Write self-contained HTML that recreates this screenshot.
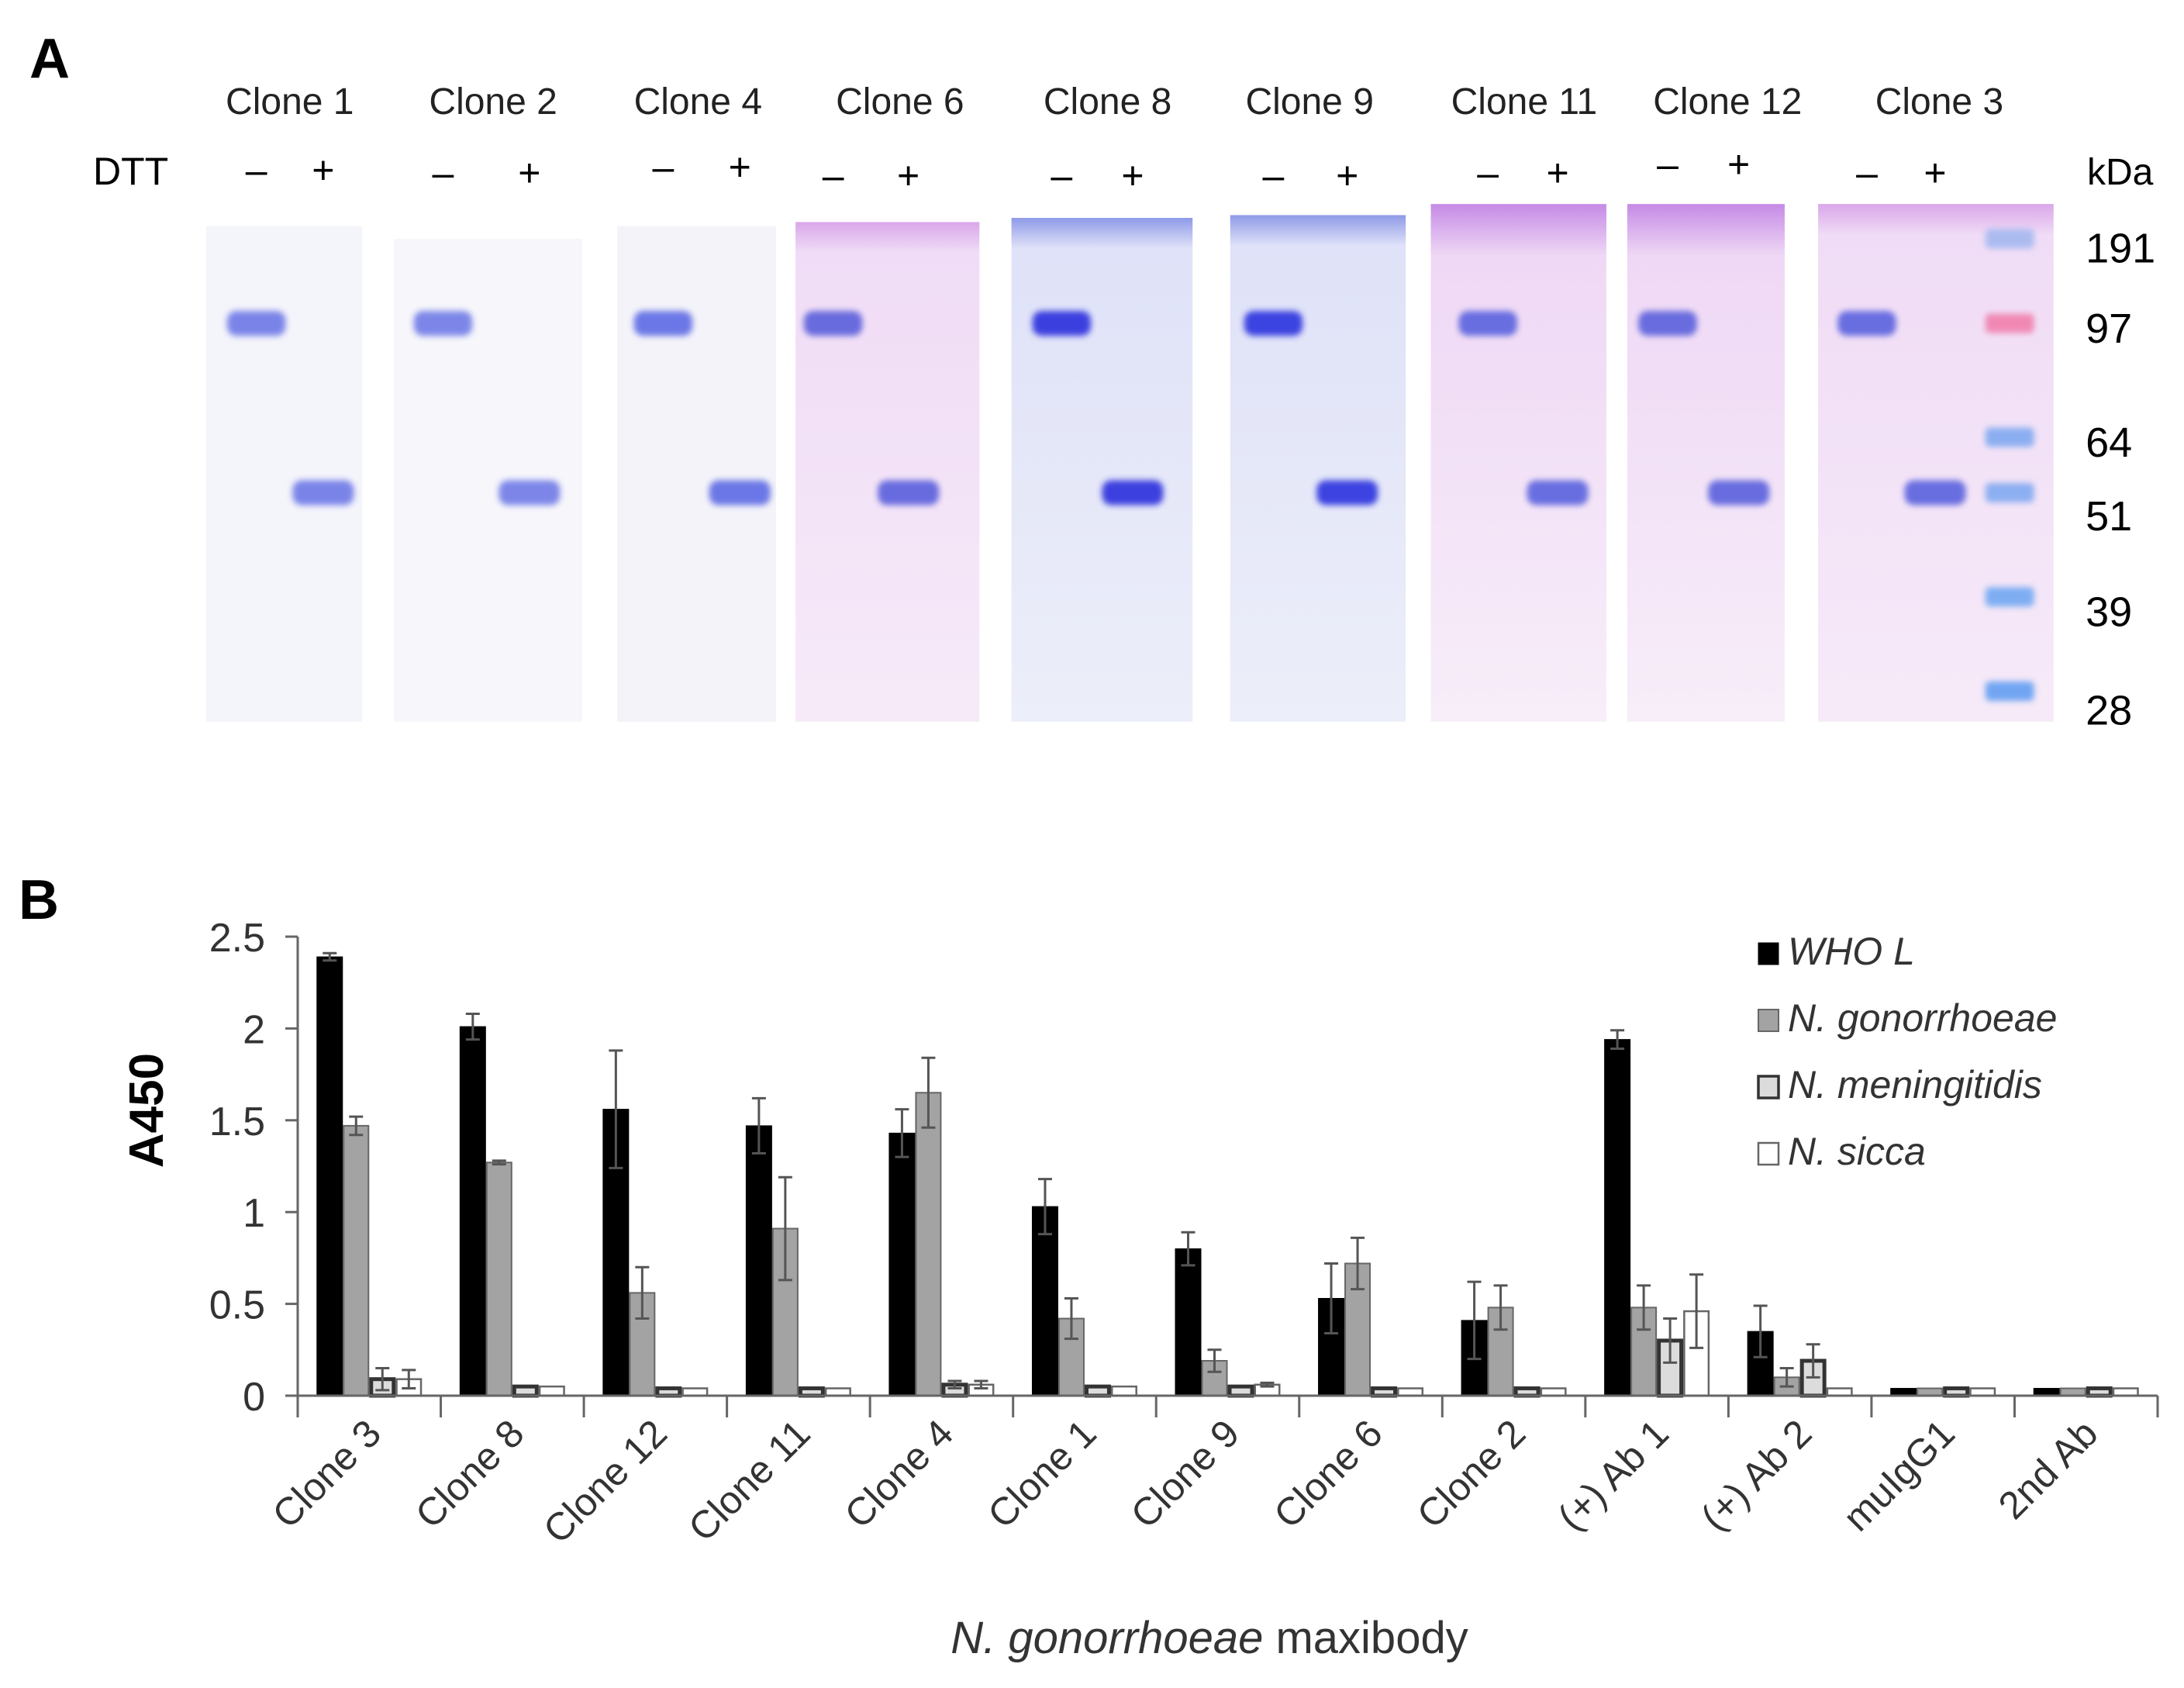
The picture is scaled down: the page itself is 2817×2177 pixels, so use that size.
<!DOCTYPE html>
<html><head><meta charset="utf-8"><style>
html,body{margin:0;padding:0;background:#fff;}
svg{display:block;font-family:"Liberation Sans",Arial,sans-serif;}
</style></head><body>
<svg id="fig" width="2817" height="2177" viewBox="0 0 2817 2177" xmlns="http://www.w3.org/2000/svg">
<defs>
<linearGradient id="gPink" x1="0" y1="0" x2="0" y2="1"><stop offset="0" stop-color="#d9a6ea"/><stop offset="0.06" stop-color="#f0dcf6"/><stop offset="1" stop-color="#f6eaf8"/></linearGradient>
<linearGradient id="gBlue" x1="0" y1="0" x2="0" y2="1"><stop offset="0" stop-color="#8f9ae8"/><stop offset="0.06" stop-color="#dfe2f8"/><stop offset="1" stop-color="#eceef9"/></linearGradient>
<linearGradient id="gViolet" x1="0" y1="0" x2="0" y2="1"><stop offset="0" stop-color="#c58ae6"/><stop offset="0.1" stop-color="#efd8f5"/><stop offset="1" stop-color="#f7eef9"/></linearGradient>
<filter id="soft" x="-30%" y="-80%" width="160%" height="260%"><feGaussianBlur stdDeviation="4"/></filter>
</defs>
<g id="panelA">
<text x="38" y="100" font-size="72" font-weight="bold">A</text>
<text x="120" y="238" font-size="50">DTT</text>
<text x="2692" y="238" font-size="48">kDa</text>
</g>
<g id="panelB">
<text x="24" y="1185" font-size="72" font-weight="bold">B</text>
<text x="1560" y="2132" font-size="58" text-anchor="middle" fill="#333"><tspan font-style="italic">N. gonorrhoeae</tspan> maxibody</text>
</g>
<script>
const NS='http://www.w3.org/2000/svg';
const svg=document.getElementById('fig');
const gA=document.getElementById('panelA');
const SX=1.797, SY=1.79;
function mk(tag,attrs,parent){const e=document.createElementNS(NS,tag);for(const k in attrs)e.setAttribute(k,attrs[k]);(parent||svg).appendChild(e);return e;}
const cloneNames=['Clone 1','Clone 2','Clone 4','Clone 6','Clone 8','Clone 9','Clone 11','Clone 12','Clone 3'];
const gels=[[148,260,163,'#f4f4fb'],[283,418,172,'#f6f6fb'],[443,557,163,'#f3f3f9'],[571,703,160,'url(#gPink)'],[726,856,157,'url(#gBlue)'],[883,1009,155,'url(#gBlue)'],[1027,1153,147,'url(#gViolet)'],[1168,1281,147,'url(#gViolet)'],[1305,1474,147,'url(#gPink)']];
const minusX=[184,318,476,598,762,914,1068,1197,1340];
const plusX=[232,380,531,652,813,967,1118,1248,1389];
const signY=[122,124,120,126,126,126,124,118,124];
const bandCol=['#6d78e6','#6f7ae6','#5d6ae4','#5a5fdc','#2a2fdc','#2a30de','#5a62de','#5a60dc','#5a62de'];
gels.forEach((g,i)=>{
  const r=mk('rect',{x:g[0]*SX,y:g[2]*SY,width:(g[1]-g[0])*SX,height:(520-g[2])*SY,fill:g[3]},gA);
  
  
  const b1=mk('rect',{x:(minusX[i]-21)*SX,y:224*SY,width:42*SX,height:18*SY,rx:12,fill:bandCol[i],opacity:0.9,filter:'url(#soft)'},gA);
  
  
  const b2=mk('rect',{x:(plusX[i]-22)*SX,y:346*SY,width:44*SX,height:18*SY,rx:12,fill:bandCol[i],opacity:0.9,filter:'url(#soft)'},gA);
  
  
  const t=mk('text',{x:[208,354,501,646,795,940,1094,1240,1392][i]*SX,y:82*SY,'font-size':48,'text-anchor':'middle',fill:'#222'},gA);
  t.textContent=cloneNames[i];
  
  
  const m=mk('text',{x:minusX[i]*SX,y:(signY[i]+10)*SY,'font-size':50,'text-anchor':'middle'},gA);
  m.textContent='–';
  
  
  const p=mk('text',{x:plusX[i]*SX,y:(signY[i]+10)*SY,'font-size':50,'text-anchor':'middle'},gA);
  p.textContent='+';
  
  
});
const ladderY=[172,233,315,355,430,498];
const ladderC=['#9fb6f0','#f07aa8','#7aa6f0','#7aa6f0','#6aa4f2','#5a9af2'];
ladderY.forEach((y,i)=>{
  const l=mk('rect',{x:1425*SX,y:(y-7)*SY,width:35*SX,height:14*SY,rx:6,fill:ladderC[i],opacity:0.85,filter:'url(#soft)'},gA);
  
  
});
const kdaLabels=['191','97','64','51','39','28'];
const kdaY=[175,233,315,368,437,508];
kdaLabels.forEach((s,i)=>{
  const t=mk('text',{x:1497*SX,y:(kdaY[i]+14)*SY,'font-size':54},gA);
  t.textContent=s;
  
  
});

// ---------- Panel B chart ----------
const categories=['Clone 3','Clone 8','Clone 12','Clone 11','Clone 4','Clone 1','Clone 9','Clone 6','Clone 2','(+) Ab 1','(+) Ab 2','muIgG1','2nd Ab'];
const whoL=[2.39,2.01,1.56,1.47,1.43,1.03,0.80,0.53,0.41,1.94,0.35,0.04,0.04];
const whoLErr=[0.02,0.07,0.32,0.15,0.13,0.15,0.09,0.19,0.21,0.05,0.14,0,0];
const nGon=[1.47,1.27,0.56,0.91,1.65,0.42,0.19,0.72,0.48,0.48,0.10,0.04,0.04];
const nGonErr=[0.05,0.01,0.14,0.28,0.19,0.11,0.06,0.14,0.12,0.12,0.05,0,0];
const nMen=[0.09,0.05,0.04,0.04,0.06,0.05,0.05,0.04,0.04,0.30,0.19,0.04,0.04];
const nMenErr=[0.06,0,0,0,0.02,0,0,0,0,0.12,0.09,0,0];
const nSic=[0.09,0.05,0.04,0.04,0.06,0.05,0.06,0.04,0.04,0.46,0.04,0.04,0.04];
const nSicErr=[0.05,0,0,0,0.02,0,0.01,0,0,0.20,0,0,0];
const yTicks=[0,0.5,1,1.5,2,2.5];
const yTickLabels=['0','0.5','1','1.5','2','2.5'];
const legendLabels=['WHO L','N. gonorrhoeae','N. meningitidis','N. sicca'];

const gB=document.getElementById('panelB');
const X0=384, X1=2783, Y0=1800, Ymax=1208, VMAX=2.5;
const groupW=(X1-X0)/categories.length, barW=34;
function yScale(v){return Y0-(v/VMAX)*(Y0-Ymax);}
function xBar(ci,si){return X0+ci*groupW+(groupW-4*barW)/2+si*barW;}

const styles=[{fill:'#000',stroke:'#000',sw:1},{fill:'#a3a3a3',stroke:'#666',sw:2},{fill:'#dcdcdc',stroke:'#333',sw:5},{fill:'#fff',stroke:'#666',sw:2.5}];
const series=[whoL,nGon,nMen,nSic], errs=[whoLErr,nGonErr,nMenErr,nSicErr];
const names=['bar-who-l','bar-n-gonorrhoeae','bar-n-meningitidis','bar-n-sicca'];
const ax=mk('line',{x1:X0,y1:Ymax,x2:X0,y2:Y0+28,stroke:'#666','stroke-width':3},gB);


yTicks.forEach((v,i)=>{
  const tk=mk('line',{x1:X0-16,x2:X0,y1:yScale(v),y2:yScale(v),stroke:'#666','stroke-width':3},gB);
  
  
  const t=mk('text',{x:X0-42,y:yScale(v)+19,'font-size':52,'text-anchor':'end',fill:'#333'},gB);
  t.textContent=yTickLabels[i];
  
  
});
categories.forEach((c,ci)=>{
  series.forEach((s,si)=>{
    const st=styles[si];
    const x=xBar(ci,si), y=yScale(s[ci]);
    const r=mk('rect',{x:x+st.sw/2,y:y,width:barW-st.sw,height:Math.max(Y0-y,1),fill:st.fill,stroke:st.stroke,'stroke-width':st.sw},gB);
    
    
    const e=errs[si][ci];
    if(e>0){
      const cx=x+barW/2, ya=yScale(s[ci]+e), yb=yScale(Math.max(s[ci]-e,0));
      const p=mk('path',{d:`M${cx},${ya}V${yb}M${cx-9},${ya}H${cx+9}M${cx-9},${yb}H${cx+9}`,stroke:'#555','stroke-width':3,fill:'none'},gB);
      
      
    }
  });
  const tx=X0+(ci+1)*groupW;
  const tk=mk('line',{x1:tx,x2:tx,y1:Y0,y2:Y0+28,stroke:'#666','stroke-width':3},gB);
  
  
  const cx=X0+(ci+0.5)*groupW+18, cy=Y0+52;
  const t=mk('text',{x:cx,y:cy,'font-size':50,'text-anchor':'end',fill:'#333',transform:`rotate(-45 ${cx} ${cy})`},gB);
  t.textContent=c;
  
  
});
const xa=mk('line',{x1:X0,y1:Y0,x2:X1,y2:Y0,stroke:'#666','stroke-width':3},gB);


const yt=mk('text',{x:0,y:0,'font-size':62,'font-weight':'bold','text-anchor':'middle',transform:'translate(210 1432) rotate(-90)'},gB);
yt.textContent='A450';


legendLabels.forEach((l,i)=>{
  const st=styles[i], y=1220+i*86;
  const b=mk('rect',{x:2268,y:y-4,width:26,height:28,fill:st.fill,stroke:st.stroke,'stroke-width':Math.min(st.sw,3.5)},gB);
  
  
  const t=mk('text',{x:2306,y:y+24,'font-size':50,'font-style':'italic',fill:'#333'},gB);
  t.textContent=l;
  
  
});
</script>
</svg>
</body></html>
